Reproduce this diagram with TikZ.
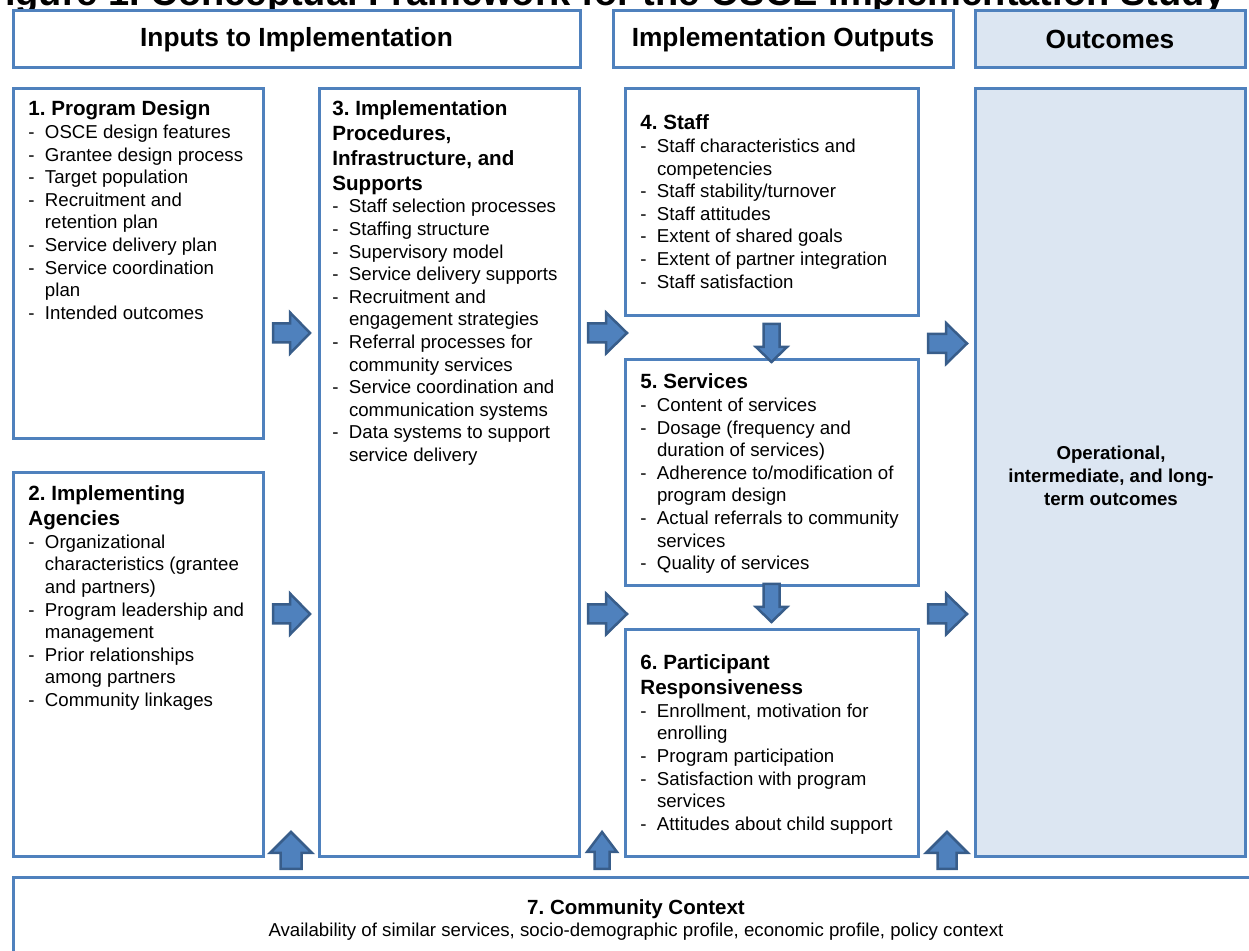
\documentclass[tikz,border=0pt]{standalone}
\usepackage{fontspec}
\setmainfont{Liberation Sans}
\frenchspacing
\definecolor{bord}{HTML}{4F81BD}
\definecolor{arrdark}{HTML}{385D8A}
\definecolor{lightfill}{HTML}{DCE6F2}
\newcommand\boxhead[1]{\baselineskip=12.4pt\hbox{\fontsize{10.3}{12.4}\selectfont\bfseries #1}}
\newcommand\itemline[1]{\baselineskip=11.3pt\hbox{\fontsize{9.33}{11.3}\selectfont\makebox[8.3pt][l]{-}#1}}
\newcommand\itemcont[1]{\baselineskip=11.3pt\hbox{\fontsize{9.33}{11.3}\selectfont\hspace*{8.3pt}#1}}
% cx, cy, angle, length, head width, shaft width, head length
\newcommand\blockarr[7]{%
  \draw[barrow, shift={(#1,#2)}, rotate=#3]
    ({-#4/2},{-#6/2}) -- ({#4/2-#7},{-#6/2}) -- ({#4/2-#7},{-#5/2}) -- ({#4/2},0)
    -- ({#4/2-#7},{#5/2}) -- ({#4/2-#7},{#6/2}) -- ({-#4/2},{#6/2}) -- cycle;}
\begin{document}
\begin{tikzpicture}[x=0.5pt,y=-0.5pt,
  box/.style={draw=bord, line width=1.5pt, fill=white, anchor=north west, inner sep=0pt, outer sep=0pt},
  shaded/.style={box, fill=lightfill},
  headtext/.style={font=\fontsize{13.15}{15}\selectfont\bfseries, inner sep=0pt},
  body/.style={anchor=base west, inner sep=0pt, align=left},
  barrow/.style={fill=bord, draw=arrdark, line width=1.25pt, line join=miter}]
\useasboundingbox (0,0) rectangle (1249,951);

% cut-off figure title
\node[anchor=base east, inner sep=0pt, font=\fontsize{19}{22}\selectfont\bfseries] (figtitle) at (1226,6)
  {Figure 1. Conceptual Framework for the OSCE Implementation Study};

% header boxes
\node[box, minimum width=283.5pt, minimum height=28.5pt] (h1) at (13,11) {};
\node[box, minimum width=170pt, minimum height=28.5pt] (h2) at (613,11) {};
\node[shaded, minimum width=135pt, minimum height=28.5pt] (h3) at (975,11) {};
\node[headtext] (h1t) at (h1.center) {Inputs to Implementation};
\node[headtext] (h2t) at (h2.center) {Implementation Outputs};
\node[headtext] (h3t) at (h3.center) {Outcomes};

% main boxes
\node[box, minimum width=125pt, minimum height=175pt] (b1) at (13,89) {};
\node[box, minimum width=125pt, minimum height=192pt] (b2) at (13,473) {};
\node[box, minimum width=130pt, minimum height=384pt] (b3) at (319,89) {};
\node[box, minimum width=146.5pt, minimum height=113.5pt] (b4) at (625,89) {};
\node[box, minimum width=146.5pt, minimum height=113pt] (b5) at (625,360) {};
\node[box, minimum width=146.5pt, minimum height=113.5pt] (b6) at (625,630) {};
\node[shaded, minimum width=135pt, minimum height=384pt] (bo) at (975,89) {};
\node[box, minimum width=624.5pt, minimum height=56pt] (b7) at (13,878) {};

% box texts
\node[body] (t1) at (28,116) {\vtop{%
  \boxhead{1. Program Design}
  \itemline{OSCE design features}
  \itemline{Grantee design process}
  \itemline{Target population}
  \itemline{Recruitment and}
  \itemcont{retention plan}
  \itemline{Service delivery plan}
  \itemline{Service coordination}
  \itemcont{plan}
  \itemline{Intended outcomes}}};

\node[body] (t2) at (28,501) {\vtop{%
  \boxhead{2. Implementing}
  \boxhead{Agencies}
  \itemline{Organizational}
  \itemcont{characteristics (grantee}
  \itemcont{and partners)}
  \itemline{Program leadership and}
  \itemcont{management}
  \itemline{Prior relationships}
  \itemcont{among partners}
  \itemline{Community linkages}}};

\node[body] (t3) at (332,116) {\vtop{%
  \boxhead{3. Implementation}
  \boxhead{Procedures,}
  \boxhead{Infrastructure, and}
  \boxhead{Supports}
  \itemline{Staff selection processes}
  \itemline{Staffing structure}
  \itemline{Supervisory model}
  \itemline{Service delivery supports}
  \itemline{Recruitment and}
  \itemcont{engagement strategies}
  \itemline{Referral processes for}
  \itemcont{community services}
  \itemline{Service coordination and}
  \itemcont{communication systems}
  \itemline{Data systems to support}
  \itemcont{service delivery}}};

\node[body] (t4) at (640,130) {\vtop{%
  \boxhead{4. Staff}
  \itemline{Staff characteristics and}
  \itemcont{competencies}
  \itemline{Staff stability/turnover}
  \itemline{Staff attitudes}
  \itemline{Extent of shared goals}
  \itemline{Extent of partner integration}
  \itemline{Staff satisfaction}}};

\node[body] (t5) at (640,389) {\vtop{%
  \boxhead{5. Services}
  \itemline{Content of services}
  \itemline{Dosage (frequency and}
  \itemcont{duration of services)}
  \itemline{Adherence to/modification of}
  \itemcont{program design}
  \itemline{Actual referrals to community}
  \itemcont{services}
  \itemline{Quality of services}}};

\node[body] (t6) at (640,670) {\vtop{%
  \boxhead{6. Participant}
  \boxhead{Responsiveness}
  \itemline{Enrollment, motivation for}
  \itemcont{enrolling}
  \itemline{Program participation}
  \itemline{Satisfaction with program}
  \itemcont{services}
  \itemline{Attitudes about child support}}};

\node[inner sep=0pt, align=center, font=\fontsize{9.33}{11.5}\selectfont\bfseries] (to) at (1111,476)
  {Operational,\\intermediate, and long-\\term outcomes};

\node[inner sep=0pt, font=\fontsize{10.25}{12}\selectfont\bfseries] (t7a) at (636,909) {7. Community Context};
\node[inner sep=0pt, font=\fontsize{9.33}{11}\selectfont] (t7b) at (636,932)
  {Availability of similar services, socio-demographic profile, economic profile, policy context};

% block arrows
\blockarr{291.5}{333}{0}{37}{41}{19}{20}
\blockarr{291.5}{614}{0}{37}{41}{19}{20}
\blockarr{607.5}{333}{0}{39}{41}{19}{21}
\blockarr{607.5}{614}{0}{39}{41}{19}{21}
\blockarr{947.5}{343.5}{0}{39}{41}{19}{21}
\blockarr{947.5}{614}{0}{39}{41}{19}{21}
\blockarr{771.5}{343}{-90}{38}{31}{16}{15}
\blockarr{771.5}{603}{-90}{38}{31}{16}{15}
\blockarr{291}{850.5}{90}{37}{42}{21}{21}
\blockarr{602}{850.5}{90}{37}{30}{15}{20}
\blockarr{947}{850.5}{90}{37}{42}{19}{21}
\end{tikzpicture}
\end{document}
